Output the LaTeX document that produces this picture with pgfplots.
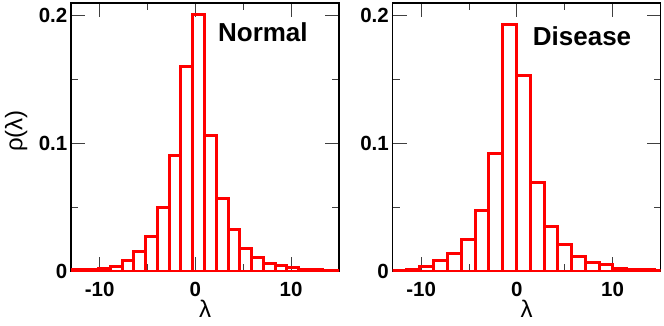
\documentclass[border=0pt]{standalone}
\usepackage{fontspec}
\setmainfont{Liberation Sans}
\usepackage{pgfplots}
\pgfplotsset{compat=1.18}

\pgfplotsset{
  histpanel/.style={
    scale only axis,
    width=268pt, height=268pt,
    anchor=south west,
    xmin=-13, xmax=15, ymin=0, ymax=0.21,
    ybar,
    xtick={-10,0,10}, xticklabels={-10,0,10},
    minor xtick={-5,5},
    ytick={0,0.1,0.2}, yticklabels={0,0.1,0.2},
    minor ytick={0.05,0.15},
    scaled y ticks=false,
    tick align=inside,
    major tick length=14pt, minor tick length=7pt,
    tick style={line width=0.9pt, black!75},
    axis line style={line width=1.3pt},
    /pgf/number format/assume math mode=true,
    ticklabel style={font=\fontsize{20.5}{20.5}\selectfont\bfseries},
    yticklabel style={inner sep=3.5pt},
    xticklabel style={anchor=base, yshift=-25pt},
    xlabel={λ},
    xlabel style={font=\fontsize{24}{24}\selectfont,
      at={(axis description cs:0.5,0)}, anchor=base, yshift=-46pt},
  },
  histbar/.style={draw=red, fill=none, line width=3pt},
}

\begin{document}
\begin{tikzpicture}
\path[use as bounding box] (0,0) rectangle (664pt,325pt);

% Normal
\begin{axis}[histpanel, at={(71pt,54pt)},
  ylabel={ρ(λ)},
  ylabel style={font=\fontsize{24}{24}\selectfont, rotate=0,
    at={(axis description cs:-0.205,0.522)}, anchor=center}]
\addplot[histbar, bar width=1.23] coordinates {
  (-13.195,0.0008) (-11.965,0.0008) (-10.735,0.0010) (-9.505,0.0022)
  (-8.275,0.0034) (-7.045,0.0082) (-5.815,0.0152) (-4.585,0.0268)
  (-3.355,0.0497) (-2.125,0.0907) (-0.895,0.1603) (0.335,0.2008)
  (1.565,0.1064) (2.795,0.0567) (4.025,0.0322) (5.255,0.0178)
  (6.485,0.0107) (7.715,0.0060) (8.945,0.0043) (10.175,0.0031)
  (11.405,0.0014) (12.635,0.0013) (13.865,0.0007) (15.095,0.0006)
};
\node[anchor=base west, font=\fontsize{26}{26}\selectfont\bfseries]
  at (axis cs:2.0,0.18) {Normal};
\end{axis}

% Disease
\begin{axis}[histpanel, at={(392.5pt,54pt)}]
\addplot[histbar, bar width=1.44] coordinates {
  (-12.29,0.0005) (-10.85,0.0013) (-9.41,0.0036) (-7.97,0.0083)
  (-6.53,0.0140) (-5.09,0.0247) (-3.65,0.0473) (-2.21,0.0918)
  (-0.77,0.1930) (0.67,0.1532) (2.11,0.0695) (3.55,0.0345)
  (4.99,0.0208) (6.43,0.0115) (7.87,0.0070) (9.31,0.0049)
  (10.75,0.0018) (12.19,0.0013) (13.63,0.0008) (15.07,0.0006)
};
\node[anchor=base west, font=\fontsize{26}{26}\selectfont\bfseries]
  at (axis cs:1.3,0.177) {Disease};
\end{axis}
\end{tikzpicture}
\end{document}
